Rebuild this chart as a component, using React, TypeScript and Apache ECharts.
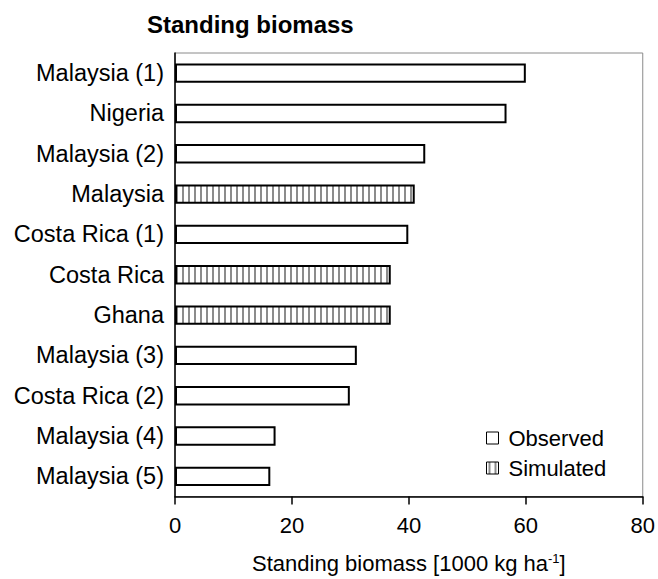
import { useEffect, useRef } from "react";
import * as echarts from "echarts";

// Standing biomass per site, listed top to bottom
const categories = [
  "Malaysia (1)",
  "Nigeria",
  "Malaysia (2)",
  "Malaysia",
  "Costa Rica (1)",
  "Costa Rica",
  "Ghana",
  "Malaysia (3)",
  "Costa Rica (2)",
  "Malaysia (4)",
  "Malaysia (5)",
];
const biomass = [60.0, 56.7, 42.8, 41.0, 39.9, 36.9, 36.9, 31.1, 29.9, 17.2, 16.3];
const kind = [
  "Observed",
  "Observed",
  "Observed",
  "Simulated",
  "Observed",
  "Simulated",
  "Simulated",
  "Observed",
  "Observed",
  "Observed",
  "Observed",
];
const seriesNames = ["Observed", "Simulated"];
const xMin = 0;
const xMax = 80;
const xStep = 20;

const FONT = "'Liberation Sans', Arial, Helvetica, sans-serif";

function makeStripePattern(): HTMLCanvasElement {
  const c = document.createElement("canvas");
  c.width = 6;
  c.height = 8;
  const ctx = c.getContext("2d")!;
  ctx.fillStyle = "#ffffff";
  ctx.fillRect(0, 0, 6, 8);
  ctx.fillStyle = "#8c8c8c";
  ctx.fillRect(2, 0, 2, 8);
  return c;
}

export default function App() {
  const ref = useRef<HTMLDivElement>(null);

  useEffect(() => {
    if (!ref.current) return;
    const chart = echarts.init(ref.current, undefined, { renderer: "svg" });
    const stripes = { image: makeStripePattern(), repeat: "repeat" } as any;

    const dataFor = (name: string) =>
      biomass.map((v, i) => (kind[i] === name ? v : "-"));

    chart.setOption({
      animation: false,
      backgroundColor: "#ffffff",
      title: {
        text: "Standing biomass",
        left: 142,
        top: 7,
        textStyle: {
          fontFamily: FONT,
          fontSize: 24,
          fontWeight: "bold",
          color: "#000",
        },
      },
      legend: {
        data: seriesNames,
        orient: "vertical",
        left: 481,
        top: 422,
        itemWidth: 12,
        itemHeight: 12,
        itemGap: 8,
        icon: "rect",
        itemStyle: { borderWidth: 1, borderColor: "#000" },
        textStyle: { fontFamily: FONT, fontSize: 22, color: "#000", padding: [0, 0, 0, 5] },
      },
      grid: {
        left: 175,
        right: 14,
        top: 53,
        bottom: 79,
        show: true,
        borderColor: "#8a8a8a",
        borderWidth: 1,
      },
      xAxis: {
        type: "value",
        min: xMin,
        max: xMax,
        interval: xStep,
        name: "Standing biomass [1000 kg ha{sup|-1}]",
        nameLocation: "middle",
        nameGap: 55,
        nameTextStyle: {
          fontFamily: FONT,
          fontSize: 22,
          color: "#000",
          rich: {
            sup: { fontFamily: FONT, fontSize: 13, color: "#000", verticalAlign: "top", padding: [0, 0, 10, 0] },
          },
        },
        splitLine: { show: false },
        axisLine: { show: true, lineStyle: { color: "#000", width: 1.5 } },
        axisTick: { show: true, inside: false, length: 8, lineStyle: { color: "#000", width: 1.5 } },
        axisLabel: { fontFamily: FONT, fontSize: 22, color: "#000", margin: 18 },
      },
      yAxis: {
        type: "category",
        data: categories,
        inverse: true,
        axisLine: { show: true, lineStyle: { color: "#000", width: 1.5 } },
        axisTick: { show: false },
        axisLabel: { fontFamily: FONT, fontSize: 23.5, color: "#000", margin: 11 },
      },
      series: [
        {
          name: seriesNames[0],
          type: "bar",
          data: dataFor(seriesNames[0]),
          barWidth: "48%",
          barGap: "-100%",
          itemStyle: { color: "#ffffff", borderColor: "#000", borderWidth: 2 },
        },
        {
          name: seriesNames[1],
          type: "bar",
          data: dataFor(seriesNames[1]),
          barWidth: "48%",
          barGap: "-100%",
          itemStyle: { color: stripes, borderColor: "#000", borderWidth: 2 },
        },
      ],
    });

    return () => chart.dispose();
  }, []);

  return (
    <div
      ref={ref}
      style={{ position: "absolute", left: 0, top: 0, width: 658, height: 579 }}
    />
  );
}
